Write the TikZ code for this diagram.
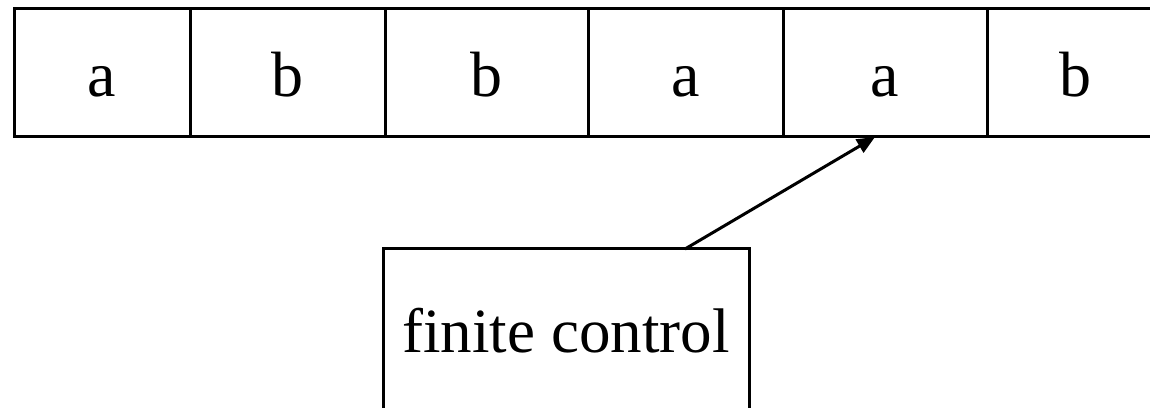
\documentclass[tikz,border=0pt]{standalone}
\usepackage{fontspec}
\setmainfont{Liberation Serif}
\usetikzlibrary{positioning,arrows.meta}

\tikzset{
    cell/.style={draw, line width=3pt, inner sep=0pt, outer sep=0pt,
        minimum height=128pt, text height=48pt, text depth=0pt,
        font=\fontsize{64}{70}\selectfont},
    ctrl/.style={draw, line width=3pt, inner sep=0pt, outer sep=0pt,
        minimum width=366pt, minimum height=162pt, text height=44pt, text depth=0pt,
        font=\fontsize{63}{70}\selectfont}
}

\begin{document}
\begin{tikzpicture}[x=1pt, y=1pt]
    \useasboundingbox (0,0) rectangle (1150,407);

    % Draw the tape cells
    \node[cell, minimum width=176pt] (c1) at (102,334) {a};
    \node[cell, minimum width=195pt, right=0pt of c1] (c2) {b};
    \node[cell, minimum width=203pt, right=0pt of c2] (c3) {b};
    \node[cell, minimum width=195pt, right=0pt of c3] (c4) {a};
    \node[cell, minimum width=204pt, right=0pt of c4] (c5) {a};
    \node[cell, minimum width=176pt, right=0pt of c5] (c6) {b};

    % Draw the finite control
    \node[ctrl] (fc) at (566,77) {finite control};

    % Draw the head pointing at the tape
    \draw[-{Triangle[length=18pt, width=15pt]}, line width=3pt]
        ([xshift=119pt]fc.north) -- ([xshift=-10pt]c5.south);
\end{tikzpicture}
\end{document}
